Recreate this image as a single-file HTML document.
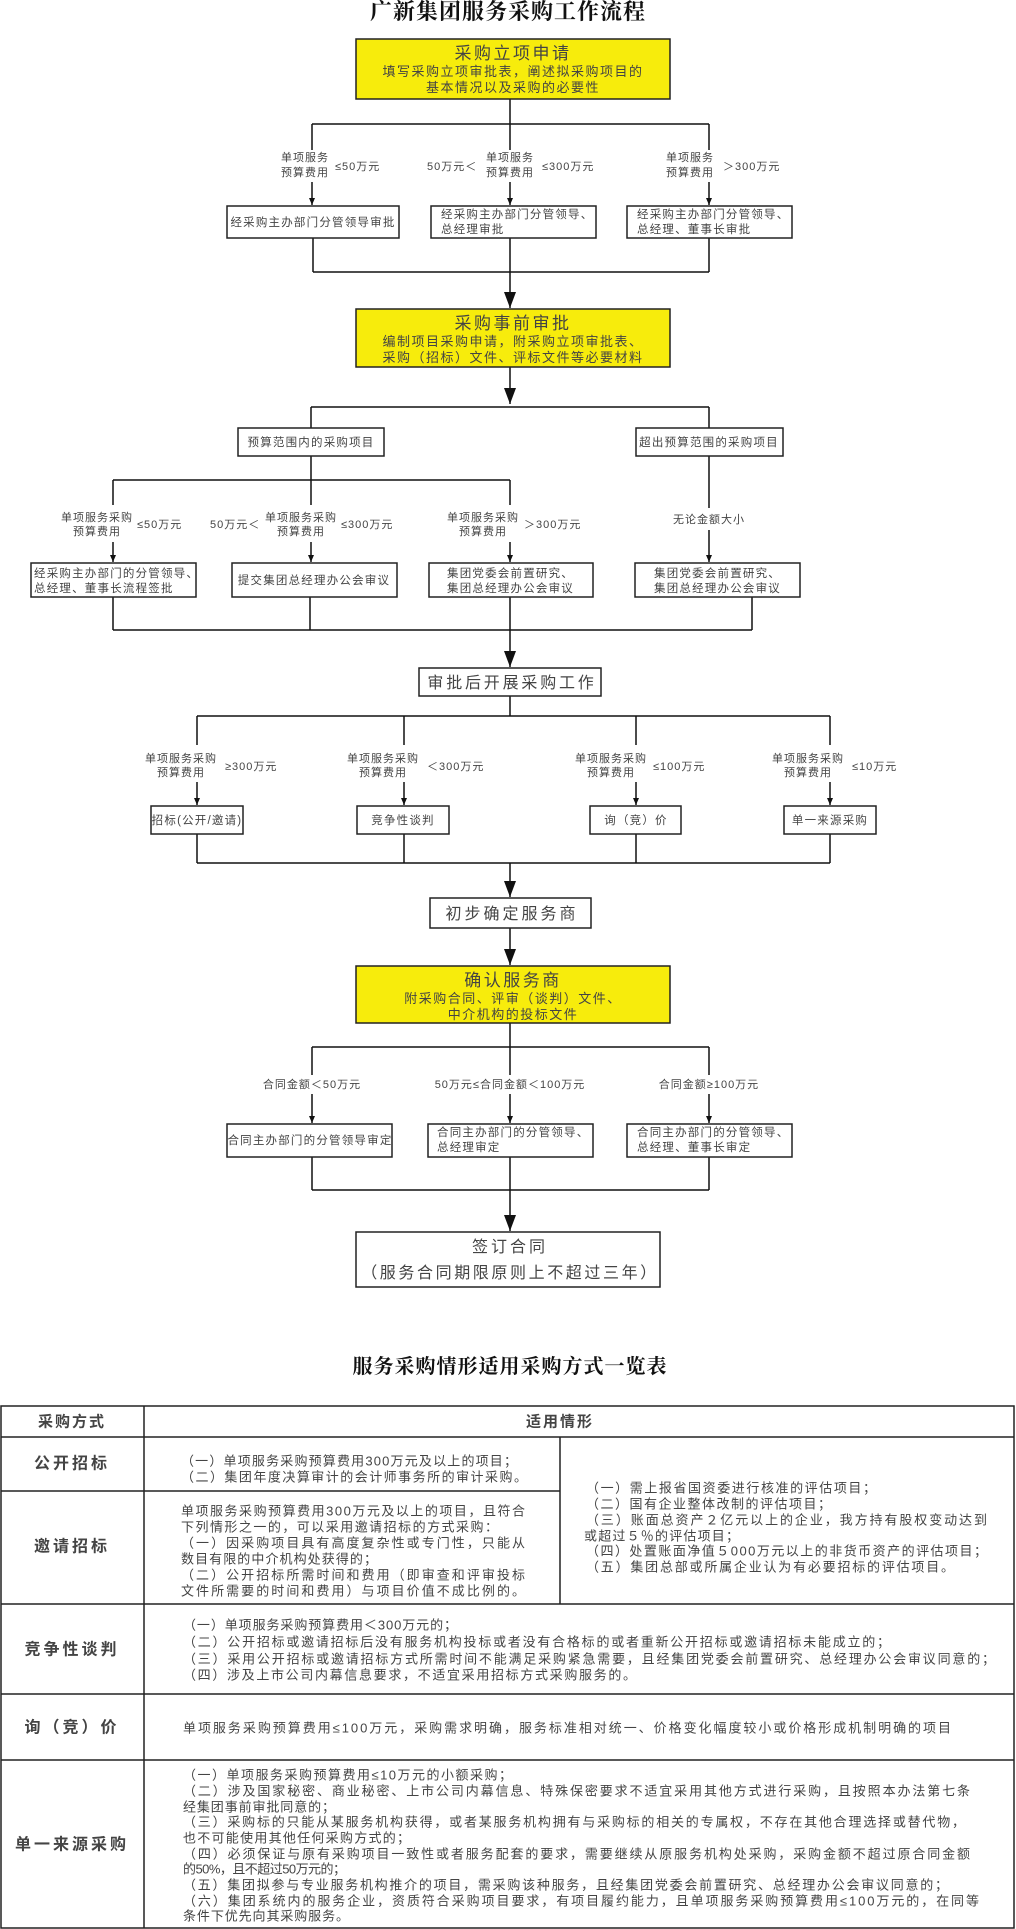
<!DOCTYPE html>
<html><head><meta charset="utf-8"><style>
html,body{margin:0;padding:0;background:#fff;}
svg{display:block;}
text{font-family:"Liberation Sans","Noto Sans CJK SC",sans-serif;fill:#444;}
.t{font-size:11px;letter-spacing:1px;}
.b{font-size:11.5px;letter-spacing:1.2px;}
.m{font-size:13px;letter-spacing:1.5px;}
.h{font-family:"Liberation Serif","Noto Serif CJK SC",serif;font-weight:bold;fill:#111;}
</style></head><body>
<svg width="1016" height="1929" viewBox="0 0 1016 1929" xmlns="http://www.w3.org/2000/svg">
<defs>
<marker id="s" markerWidth="7" markerHeight="6" refX="7" refY="3" orient="auto" markerUnits="userSpaceOnUse"><path d="M0,0 L7,3 L0,6 z" fill="#111"/></marker>
<marker id="B" markerWidth="16" markerHeight="12" refX="16" refY="6" orient="auto" markerUnits="userSpaceOnUse"><path d="M0,0 L16,6 L0,12 z" fill="#111"/></marker>
</defs>
<g stroke="#111" stroke-width="1.5" fill="none">
<line x1="510" y1="99" x2="510" y2="124"/>
<line x1="312" y1="124" x2="709" y2="124"/>
<line x1="312" y1="124" x2="312" y2="150"/><line x1="312" y1="182" x2="312" y2="205" marker-end="url(#s)"/>
<line x1="510" y1="124" x2="510" y2="150"/><line x1="510" y1="182" x2="510" y2="205" marker-end="url(#s)"/>
<line x1="709" y1="124" x2="709" y2="150"/><line x1="709" y1="182" x2="709" y2="205" marker-end="url(#s)"/>
<line x1="313" y1="238" x2="313" y2="272"/><line x1="510" y1="238" x2="510" y2="272"/><line x1="709" y1="238" x2="709" y2="272"/>
<line x1="313" y1="272" x2="709" y2="272"/>
<line x1="510" y1="272" x2="510" y2="308" marker-end="url(#B)"/>
<line x1="510" y1="367" x2="510" y2="404" marker-end="url(#B)"/>
<line x1="311" y1="407" x2="709" y2="407"/>
<line x1="311" y1="407" x2="311" y2="428"/><line x1="709" y1="407" x2="709" y2="428"/>
<line x1="311" y1="456" x2="311" y2="480"/>
<line x1="113" y1="480" x2="510" y2="480"/>
<line x1="113" y1="480" x2="113" y2="505"/><line x1="113" y1="542" x2="113" y2="562" marker-end="url(#s)"/>
<line x1="311" y1="480" x2="311" y2="505"/><line x1="311" y1="542" x2="311" y2="562" marker-end="url(#s)"/>
<line x1="510" y1="480" x2="510" y2="505"/><line x1="510" y1="542" x2="510" y2="562" marker-end="url(#s)"/>
<line x1="709" y1="456" x2="709" y2="508"/><line x1="709" y1="530" x2="709" y2="562" marker-end="url(#s)"/>
<line x1="113" y1="597" x2="113" y2="630"/><line x1="310" y1="597" x2="310" y2="630"/><line x1="510" y1="597" x2="510" y2="630"/><line x1="752" y1="597" x2="752" y2="630"/>
<line x1="113" y1="630" x2="752" y2="630"/>
<line x1="510" y1="630" x2="510" y2="667" marker-end="url(#B)"/>
<line x1="510" y1="696" x2="510" y2="716"/>
<line x1="197" y1="716" x2="830" y2="716"/>
<line x1="197" y1="716" x2="197" y2="745"/><line x1="197" y1="782" x2="197" y2="805" marker-end="url(#s)"/>
<line x1="404" y1="716" x2="404" y2="745"/><line x1="404" y1="782" x2="404" y2="805" marker-end="url(#s)"/>
<line x1="636" y1="716" x2="636" y2="745"/><line x1="636" y1="782" x2="636" y2="805" marker-end="url(#s)"/>
<line x1="830" y1="716" x2="830" y2="745"/><line x1="830" y1="782" x2="830" y2="805" marker-end="url(#s)"/>
<line x1="197" y1="834" x2="197" y2="863"/><line x1="404" y1="834" x2="404" y2="863"/><line x1="636" y1="834" x2="636" y2="863"/><line x1="830" y1="834" x2="830" y2="863"/>
<line x1="197" y1="863" x2="830" y2="863"/>
<line x1="510" y1="863" x2="510" y2="897" marker-end="url(#B)"/>
<line x1="510" y1="928" x2="510" y2="965" marker-end="url(#B)"/>
<line x1="510" y1="1023" x2="510" y2="1047"/>
<line x1="312" y1="1047" x2="709" y2="1047"/>
<line x1="312" y1="1047" x2="312" y2="1075"/><line x1="312" y1="1094" x2="312" y2="1123" marker-end="url(#s)"/>
<line x1="510" y1="1047" x2="510" y2="1075"/><line x1="510" y1="1094" x2="510" y2="1123" marker-end="url(#s)"/>
<line x1="709" y1="1047" x2="709" y2="1075"/><line x1="709" y1="1094" x2="709" y2="1123" marker-end="url(#s)"/>
<line x1="312" y1="1157" x2="312" y2="1190"/><line x1="510" y1="1157" x2="510" y2="1190"/><line x1="709" y1="1157" x2="709" y2="1190"/>
<line x1="312" y1="1190" x2="709" y2="1190"/>
<line x1="510" y1="1190" x2="510" y2="1231" marker-end="url(#B)"/>
</g>
<g stroke="#222" stroke-width="1.5">
<rect x="356" y="39" width="314" height="60" fill="#f7ec0c"/>
<rect x="356" y="309" width="314" height="58" fill="#f7ec0c"/>
<rect x="356" y="966" width="314" height="57" fill="#f7ec0c"/>
<g fill="#fff">
<rect x="227" y="206" width="172" height="32"/><rect x="431" y="206" width="165" height="32"/><rect x="627" y="206" width="165" height="32"/>
<rect x="238" y="428" width="146" height="28"/><rect x="636" y="428" width="147" height="28"/>
<rect x="31" y="563" width="165" height="34"/><rect x="232" y="563" width="165" height="34"/><rect x="429" y="563" width="164" height="34"/><rect x="635" y="563" width="165" height="34"/>
<rect x="419" y="668" width="182" height="28"/>
<rect x="151" y="806" width="92" height="28"/><rect x="357" y="806" width="92" height="28"/><rect x="590" y="806" width="91" height="28"/><rect x="784" y="806" width="92" height="28"/>
<rect x="430" y="898" width="161" height="30"/>
<rect x="227" y="1124" width="165" height="33"/><rect x="428" y="1124" width="165" height="33"/><rect x="627" y="1124" width="165" height="33"/>
<rect x="356" y="1232" width="304" height="55"/>
</g></g>
<text x="508" y="19" text-anchor="middle" class="h" font-size="22" letter-spacing="1">广新集团服务采购工作流程</text>
<text x="510" y="1373" text-anchor="middle" class="h" font-size="20" letter-spacing="1">服务采购情形适用采购方式一览表</text>
<g text-anchor="middle">
<text x="513" y="59" font-size="17" letter-spacing="2.5">采购立项申请</text>
<text x="513" y="76" class="m">填写采购立项审批表，阐述拟采购项目的</text>
<text x="513" y="92" class="m">基本情况以及采购的必要性</text>
<text x="513" y="329" font-size="17" letter-spacing="2.5">采购事前审批</text>
<text x="513" y="346" class="m">编制项目采购申请，附采购立项审批表、</text>
<text x="513" y="362" class="m">采购（招标）文件、评标文件等必要材料</text>
<text x="513" y="986" font-size="17" letter-spacing="2.5">确认服务商</text>
<text x="513" y="1003" class="m">附采购合同、评审（谈判）文件、</text>
<text x="513" y="1019" class="m">中介机构的投标文件</text>
<text x="512" y="688" font-size="16" letter-spacing="2.8">审批后开展采购工作</text>
<text x="512" y="919" font-size="16" letter-spacing="3">初步确定服务商</text>
<text x="510" y="1252" font-size="16" letter-spacing="3">签订合同</text>
<text x="510" y="1278" font-size="16" letter-spacing="2.6">（服务合同期限原则上不超过三年）</text>
</g>
<g class="t">
<text x="305" y="161" text-anchor="middle">单项服务</text><text x="305" y="176" text-anchor="middle">预算费用</text><text x="335" y="170">≤50万元</text>
<text x="427" y="170">50万元＜</text><text x="510" y="161" text-anchor="middle">单项服务</text><text x="510" y="176" text-anchor="middle">预算费用</text><text x="542" y="170">≤300万元</text>
<text x="690" y="161" text-anchor="middle">单项服务</text><text x="690" y="176" text-anchor="middle">预算费用</text><text x="723" y="170">＞300万元</text>
<text x="97" y="521" text-anchor="middle">单项服务采购</text><text x="97" y="535" text-anchor="middle">预算费用</text><text x="137" y="528">≤50万元</text>
<text x="210" y="528">50万元＜</text><text x="301" y="521" text-anchor="middle">单项服务采购</text><text x="301" y="535" text-anchor="middle">预算费用</text><text x="341" y="528">≤300万元</text>
<text x="483" y="521" text-anchor="middle">单项服务采购</text><text x="483" y="535" text-anchor="middle">预算费用</text><text x="524" y="528">＞300万元</text>
<text x="709" y="523" text-anchor="middle">无论金额大小</text>
<text x="181" y="762" text-anchor="middle">单项服务采购</text><text x="181" y="776" text-anchor="middle">预算费用</text><text x="225" y="770">≥300万元</text>
<text x="383" y="762" text-anchor="middle">单项服务采购</text><text x="383" y="776" text-anchor="middle">预算费用</text><text x="427" y="770">＜300万元</text>
<text x="611" y="762" text-anchor="middle">单项服务采购</text><text x="611" y="776" text-anchor="middle">预算费用</text><text x="653" y="770">≤100万元</text>
<text x="808" y="762" text-anchor="middle">单项服务采购</text><text x="808" y="776" text-anchor="middle">预算费用</text><text x="852" y="770">≤10万元</text>
<text x="312" y="1088" text-anchor="middle">合同金额＜50万元</text>
<text x="510" y="1088" text-anchor="middle">50万元≤合同金额＜100万元</text>
<text x="709" y="1088" text-anchor="middle">合同金额≥100万元</text>
</g>
<g class="b">
<text x="313" y="226" text-anchor="middle">经采购主办部门分管领导审批</text>
<text x="441" y="218">经采购主办部门分管领导、</text><text x="441" y="233">总经理审批</text>
<text x="637" y="218">经采购主办部门分管领导、</text><text x="637" y="233">总经理、董事长审批</text>
<text x="311" y="446" text-anchor="middle">预算范围内的采购项目</text>
<text x="709" y="446" text-anchor="middle">超出预算范围的采购项目</text>
<text x="34" y="577">经采购主办部门的分管领导、</text><text x="34" y="592">总经理、董事长流程签批</text>
<text x="314" y="584" text-anchor="middle">提交集团总经理办公会审议</text>
<text x="447" y="577">集团党委会前置研究、</text><text x="447" y="592">集团总经理办公会审议</text>
<text x="654" y="577">集团党委会前置研究、</text><text x="654" y="592">集团总经理办公会审议</text>
<text x="197" y="824" text-anchor="middle">招标(公开/邀请)</text>
<text x="403" y="824" text-anchor="middle">竞争性谈判</text>
<text x="636" y="824" text-anchor="middle">询（竞）价</text>
<text x="830" y="824" text-anchor="middle">单一来源采购</text>
<text x="310" y="1144" text-anchor="middle">合同主办部门的分管领导审定</text>
<text x="437" y="1136">合同主办部门的分管领导、</text><text x="437" y="1151">总经理审定</text>
<text x="637" y="1136">合同主办部门的分管领导、</text><text x="637" y="1151">总经理、董事长审定</text>
</g>
<g stroke="#222" stroke-width="1.5" fill="none">
<rect x="1" y="1406" width="1013" height="522"/>
<line x1="1" y1="1437" x2="1014" y2="1437"/>
<line x1="1" y1="1491" x2="560" y2="1491"/>
<line x1="1" y1="1604" x2="1014" y2="1604"/>
<line x1="1" y1="1694" x2="1014" y2="1694"/>
<line x1="1" y1="1760" x2="1014" y2="1760"/>
<line x1="144" y1="1406" x2="144" y2="1928"/>
<line x1="560" y1="1437" x2="560" y2="1604"/>
</g>
<g font-size="15" text-anchor="middle" dominant-baseline="central" letter-spacing="2">
<text x="72" y="1422" font-weight="bold" fill="#111">采购方式</text>
<text x="560" y="1422" font-weight="bold" fill="#111">适用情形</text>
<text x="72" y="1464" font-size="16" font-weight="bold" fill="#111" letter-spacing="3">公开招标</text>
<text x="72" y="1547" font-size="16" font-weight="bold" fill="#111" letter-spacing="3">邀请招标</text>
<text x="72" y="1650" font-size="16" font-weight="bold" fill="#111" letter-spacing="3">竞争性谈判</text>
<text x="72" y="1728" font-size="16" font-weight="bold" fill="#111" letter-spacing="3">询（竞）价</text>
<text x="72" y="1845" font-size="16" font-weight="bold" fill="#111" letter-spacing="3">单一来源采购</text>
</g>
<g font-size="13" dominant-baseline="central">
<text x="181" y="1461" textLength="336" lengthAdjust="spacing">（一）单项服务采购预算费用300万元及以上的项目；</text>
<text x="181" y="1477" textLength="346" lengthAdjust="spacing">（二）集团年度决算审计的会计师事务所的审计采购。</text>
<text x="181" y="1511" textLength="344" lengthAdjust="spacing">单项服务采购预算费用300万元及以上的项目，且符合</text>
<text x="181" y="1527" textLength="317" lengthAdjust="spacing">下列情形之一的，可以采用邀请招标的方式采购：</text>
<text x="181" y="1543" textLength="344" lengthAdjust="spacing">（一）因采购项目具有高度复杂性或专门性，只能从</text>
<text x="181" y="1559" textLength="196" lengthAdjust="spacing">数目有限的中介机构处获得的；</text>
<text x="181" y="1575" textLength="344" lengthAdjust="spacing">（二）公开招标所需时间和费用（即审查和评审投标</text>
<text x="181" y="1591" textLength="344" lengthAdjust="spacing">文件所需要的时间和费用）与项目价值不成比例的。</text>
<text x="586" y="1488" textLength="290" lengthAdjust="spacing">（一）需上报省国资委进行核准的评估项目；</text>
<text x="586" y="1504" textLength="245" lengthAdjust="spacing">（二）国有企业整体改制的评估项目；</text>
<text x="586" y="1520" textLength="401" lengthAdjust="spacing">（三）账面总资产２亿元以上的企业，我方持有股权变动达到</text>
<text x="584" y="1536" textLength="155" lengthAdjust="spacing">或超过５％的评估项目；</text>
<text x="586" y="1551" textLength="401" lengthAdjust="spacing">（四）处置账面净值５000万元以上的非货币资产的评估项目；</text>
<text x="586" y="1567" textLength="368" lengthAdjust="spacing">（五）集团总部或所属企业认为有必要招标的评估项目。</text>
<text x="183" y="1625" textLength="274" lengthAdjust="spacing">（一）单项服务采购预算费用＜300万元的；</text>
<text x="183" y="1642" textLength="707" lengthAdjust="spacing">（二）公开招标或邀请招标后没有服务机构投标或者没有合格标的或者重新公开招标或邀请招标未能成立的；</text>
<text x="183" y="1659" textLength="812" lengthAdjust="spacing">（三）采用公开招标或邀请招标方式所需时间不能满足采购紧急需要，且经集团党委会前置研究、总经理办公会审议同意的；</text>
<text x="183" y="1675" textLength="453" lengthAdjust="spacing">（四）涉及上市公司内幕信息要求，不适宜采用招标方式采购服务的。</text>
<text x="183" y="1728" textLength="768" lengthAdjust="spacing">单项服务采购预算费用≤100万元，采购需求明确，服务标准相对统一、价格变化幅度较小或价格形成机制明确的项目</text>
<text x="183" y="1775" textLength="329" lengthAdjust="spacing">（一）单项服务采购预算费用≤10万元的小额采购；</text>
<text x="183" y="1791" textLength="787" lengthAdjust="spacing">（二）涉及国家秘密、商业秘密、上市公司内幕信息、特殊保密要求不适宜采用其他方式进行采购，且按照本办法第七条</text>
<text x="183" y="1807" textLength="152" lengthAdjust="spacing">经集团事前审批同意的；</text>
<text x="183" y="1822" textLength="782" lengthAdjust="spacing">（三）采购标的只能从某服务机构获得，或者某服务机构拥有与采购标的相关的专属权，不存在其他合理选择或替代物，</text>
<text x="183" y="1838" textLength="227" lengthAdjust="spacing">也不可能使用其他任何采购方式的；</text>
<text x="183" y="1854" textLength="787" lengthAdjust="spacing">（四）必须保证与原有采购项目一致性或者服务配套的要求，需要继续从原服务机构处采购，采购金额不超过原合同金额</text>
<text x="183" y="1869" textLength="163" lengthAdjust="spacing">的50%，且不超过50万元的；</text>
<text x="183" y="1885" textLength="765" lengthAdjust="spacing">（五）集团拟参与专业服务机构推介的项目，需采购该种服务，且经集团党委会前置研究、总经理办公会审议同意的；</text>
<text x="183" y="1901" textLength="796" lengthAdjust="spacing">（六）集团系统内的服务企业，资质符合采购项目要求，有项目履约能力，且单项服务采购预算费用≤100万元的，在同等</text>
<text x="183" y="1916" textLength="166" lengthAdjust="spacing">条件下优先向其采购服务。</text>
</g>
</svg>
</body></html>
